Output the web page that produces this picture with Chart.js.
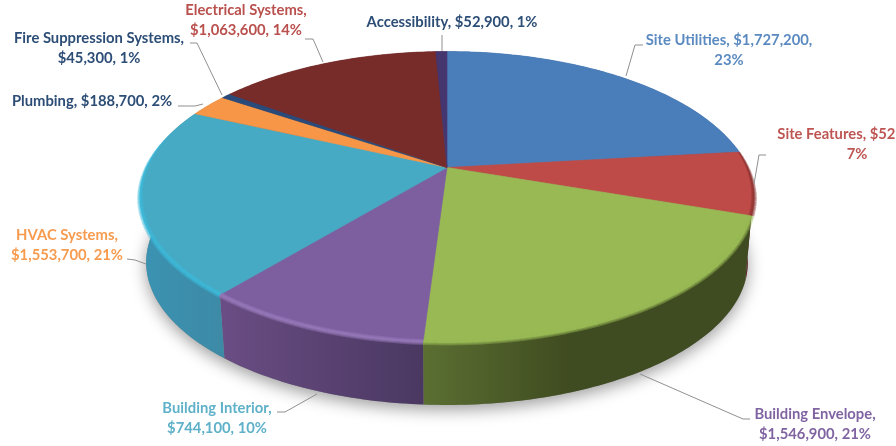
<!DOCTYPE html>
<html>
<head>
<meta charset="utf-8">
<style>
  html, body { margin: 0; padding: 0; background: #fff; overflow: hidden; }
  canvas { display: block; }
</style>
<script src="https://cdn.jsdelivr.net/npm/chart.js@4"></script>
</head>
<body>
<canvas id="costs" width="896" height="446"></canvas>
<script>
const categories = ['Site Utilities', 'Site Features', 'Building Envelope', 'Building Interior', 'HVAC Systems', 'Plumbing', 'Fire Suppression Systems', 'Electrical Systems', 'Accessibility'];
const costs = [1727200, 525000, 1546900, 744100, 1553700, 188700, 45300, 1063600, 52900];
const percents = [23, 7, 21, 10, 21, 2, 1, 14, 1];

const topColors = ['#4a7ebb', '#be4b48', '#98b954', '#7d5fa0', '#46aac4', '#f79646', '#2a4b7a', '#772c2a', '#46366f'];
const rimColors = ['#4a7ebb', '#8a3330', '#98b954', '#9b7cbd', '#3dbbdd', '#f79646', '#2a4b7a', '#772c2a', '#46366f'];
const wallLeft = ['#30527c', '#6e2a28', '#5b6f32', '#6a4d84', '#3b93b2', '#a8652c', '#1e3554', '#4f1d1c', '#2e2449'];
const wallRight = ['#30527c', '#5a2220', '#3f4b20', '#4a3861', '#3d8aa6', '#a8652c', '#1e3554', '#4f1d1c', '#2e2449'];
const textColors = ['#5b8ac0', '#bd5552', '#8064a2', '#5eb1c8', '#f79b4f', '#2c4d75', '#2c4d75', '#b9504d', '#2c4d75'];

// 0 = break after the name, 1 = break after the cost, 2 = one line
const labelBreaks = [1, 1, 0, 0, 0, 2, 0, 0, 2];
const labelSpots = [[729, 40], [857, 134], [815, 414], [217, 408], [67, 235], [92, 101], [99, 38], [246, 10], [452, 22]];
const leaders = [
  [[643, 45], [635, 45], [626, 76]],
  [[766, 155], [759, 155], [754, 184]],
  [[750, 419], [743, 419], [640, 374]],
  [[277, 412], [285, 412], [317, 394]],
  [[127, 259], [135, 260], [146, 264]],
  [[178, 106], [195, 106], [203, 104]],
  [[190, 43], [197, 43], [222, 95]],
  [[305, 39], [313, 39], [323, 62]],
  [[442, 35], [442, 51]]
];

// perspective of the disc: apex, half sizes, foreshortening
const apexX = 447, apexY = 167.5, halfX = 300.6, halfY = 139.5, tilt = 0.2027;
const wallDrop = 66, wallScale = 0.98;

function project(angle, scale, drop) {
  const u = Math.cos(angle), v = Math.sin(angle);
  const d = 1 - tilt * v;
  return [apexX + halfX * u / d * scale, apexY + drop + halfY * v / d * scale];
}

function rimPoints(start, end, scale, drop) {
  const steps = Math.max(2, Math.ceil((end - start) * 60));
  const pts = [];
  for (let i = 0; i <= steps; i++) {
    pts.push(project(start + (end - start) * i / steps, scale, drop));
  }
  return pts;
}

function tracePath(ctx, pts) {
  pts.forEach((p, i) => i ? ctx.lineTo(p[0], p[1]) : ctx.moveTo(p[0], p[1]));
}

const pie3d = {
  id: 'pie3d',
  beforeDatasetDraw(chart) {
    const ctx = chart.ctx;
    const arcs = chart.getDatasetMeta(0).data;

    ctx.save();
    // soft shadow under the disc
    ctx.save();
    ctx.shadowColor = 'rgba(0,0,0,0.38)';
    ctx.shadowBlur = 16;
    ctx.shadowOffsetY = 5;
    ctx.fillStyle = '#888';
    ctx.beginPath();
    tracePath(ctx, rimPoints(0, Math.PI * 2, wallScale, wallDrop));
    ctx.closePath();
    ctx.fill();
    ctx.restore();

    // side wall
    arcs.forEach((arc, i) => {
      const top = rimPoints(arc.startAngle, arc.endAngle, 1, 0);
      const bottom = rimPoints(arc.startAngle, arc.endAngle, wallScale, wallDrop).reverse();
      const xs = top.concat(bottom).map(p => p[0]);
      const grad = ctx.createLinearGradient(Math.min(...xs), 0, Math.max(...xs), 0);
      grad.addColorStop(0, wallLeft[i]);
      grad.addColorStop(i === 2 ? 0.45 : 1, wallRight[i]);
      grad.addColorStop(1, wallRight[i]);
      ctx.fillStyle = grad;
      ctx.beginPath();
      tracePath(ctx, top.concat(bottom));
      ctx.closePath();
      ctx.fill();
    });

    // top face
    arcs.forEach((arc, i) => {
      ctx.fillStyle = topColors[i];
      ctx.strokeStyle = topColors[i];
      ctx.lineWidth = 0.6;
      ctx.beginPath();
      tracePath(ctx, [[apexX, apexY]].concat(rimPoints(arc.startAngle, arc.endAngle, 1, 0)));
      ctx.closePath();
      ctx.fill();
      ctx.stroke();
    });

    // rounded front edge, thinning out towards the back of the disc
    arcs.forEach((arc, i) => {
      const start = Math.max(arc.startAngle, -0.3);
      const end = Math.min(arc.endAngle, Math.PI + 0.3);
      if (end <= start) return;
      ctx.strokeStyle = rimColors[i];
      const n = Math.ceil((end - start) * 30);
      for (let k = 0; k < n; k++) {
        const a0 = start + (end - start) * k / n;
        const a1 = start + (end - start) * (k + 1) / n;
        const fade = Math.max(0, Math.min(1, (Math.sin((a0 + a1) / 2) + 0.28) / 0.5));
        if (fade === 0) continue;
        [6, 4, 2].forEach(w => {
          ctx.globalAlpha = 0.4;
          ctx.lineWidth = w * fade;
          ctx.beginPath();
          tracePath(ctx, [project(a0, 1, 0), project(a1, 1, 0)]);
          ctx.stroke();
        });
      }
      ctx.globalAlpha = 1;
    });
    ctx.restore();
    return false;
  },
  afterDraw(chart) {
    const ctx = chart.ctx;
    ctx.save();

    // leader lines
    ctx.strokeStyle = '#8f8f8f';
    ctx.lineWidth = 1;
    leaders.forEach(line => {
      ctx.beginPath();
      tracePath(ctx, line);
      ctx.stroke();
    });

    // labels
    ctx.font = 'bold 14.8px Lato';
    ctx.textAlign = 'center';
    ctx.textBaseline = 'middle';
    categories.forEach((name, i) => {
      const cost = '$' + costs[i].toLocaleString('en-US');
      const pct = percents[i] + '%';
      let lines;
      if (labelBreaks[i] === 0) lines = [name + ',', cost + ', ' + pct];
      else if (labelBreaks[i] === 1) lines = [name + ', ' + cost + ',', pct];
      else lines = [name + ', ' + cost + ', ' + pct];
      ctx.fillStyle = textColors[i];
      lines.forEach((text, k) => ctx.fillText(text, labelSpots[i][0], labelSpots[i][1] + k * 20.5));
    });
    ctx.restore();
  }
};

new Chart(
  document.getElementById('costs'),
  {
    type: 'pie',
    data: {
      labels: categories,
      datasets: [
        {
          data: costs,
          backgroundColor: topColors,
          borderWidth: 0,
        }
      ]
    },
    options: {
      responsive: false,
      animation: false,
      plugins: {
        legend: { display: false },
        tooltip: { enabled: false }
      }
    },
    plugins: [pie3d]
  }
);
</script>
</body>
</html>
